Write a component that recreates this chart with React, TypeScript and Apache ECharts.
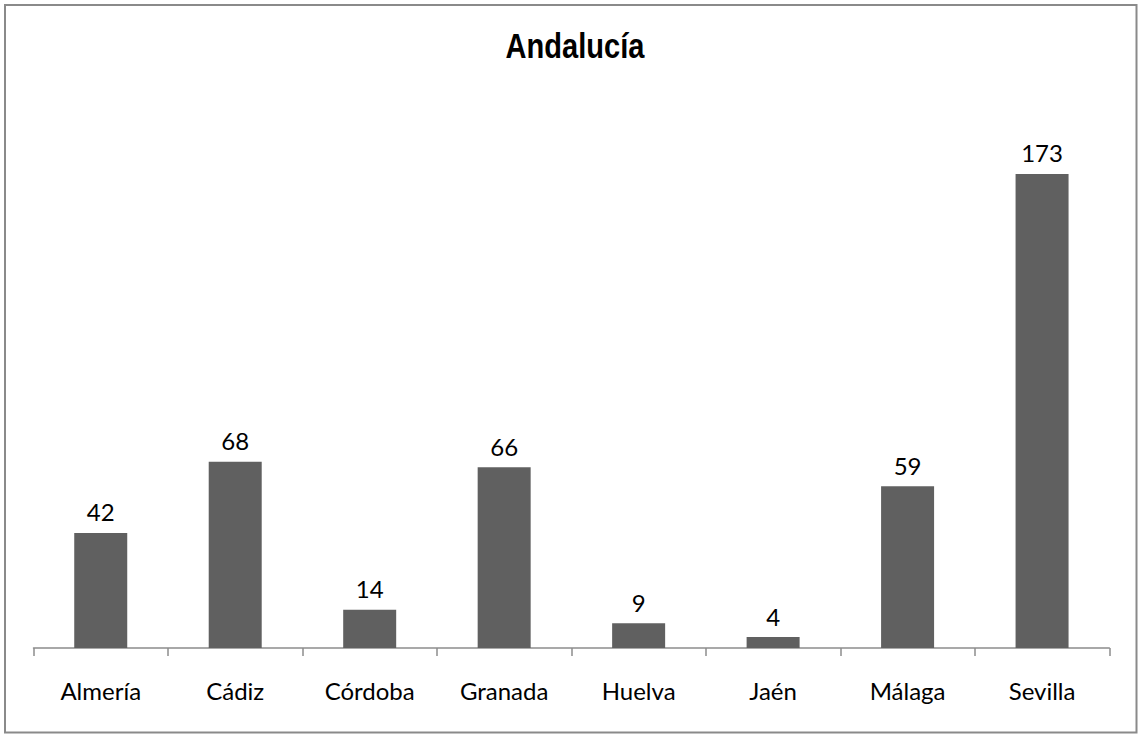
import React, { useEffect, useRef } from "react";
import * as echarts from "echarts";

const categories = ["Almería", "Cádiz", "Córdoba", "Granada", "Huelva", "Jaén", "Málaga", "Sevilla"];
const values = [42, 68, 14, 66, 9, 4, 59, 173];
const titleText = "Andalucía";

export default function App() {
  const ref = useRef<HTMLDivElement>(null);
  useEffect(() => {
    document.body.style.margin = "0";
    const chart = echarts.init(ref.current!, null, { renderer: "svg" });
    chart.setOption({
      animation: false,
      backgroundColor: "#ffffff",
      graphic: [
        {
          type: "rect",
          shape: { x: 5, y: 5, width: 1131.5, height: 727.5 },
          style: { fill: "none", stroke: "#8a8a8a", lineWidth: 2 },
          silent: true,
        },
        {
          type: "text",
          x: 575,
          y: 46,
          scaleX: 0.83,
          style: {
            text: titleText,
            font: "bold 35px 'Liberation Sans', Arial, sans-serif",
            fill: "#000",
            align: "center",
            verticalAlign: "middle",
          },
          silent: true,
        },
      ],
      grid: { left: 33.5, right: 28.7, top: 100, bottom: 86 },
      xAxis: {
        type: "category",
        data: categories,
        axisLine: { lineStyle: { color: "#8c8c8c", width: 1.5 } },
        axisTick: { show: true, length: 8, lineStyle: { color: "#8c8c8c", width: 1.5 } },
        axisLabel: {
          margin: 30,
          fontFamily: "Lato",
          fontSize: 24,
          color: "#000",
        },
      },
      yAxis: {
        type: "value",
        min: 0,
        max: 200,
        show: false,
        splitLine: { show: false },
      },
      series: [
        {
          type: "bar",
          data: values,
          barWidth: 53,
          itemStyle: { color: "#606060" },
          label: {
            show: true,
            position: "top",
            distance: 9,
            fontFamily: "Lato",
            fontSize: 24,
            color: "#000",
          },
        },
      ],
    });
    return () => chart.dispose();
  }, []);
  return <div ref={ref} style={{ width: 1138, height: 734 }} />;
}
